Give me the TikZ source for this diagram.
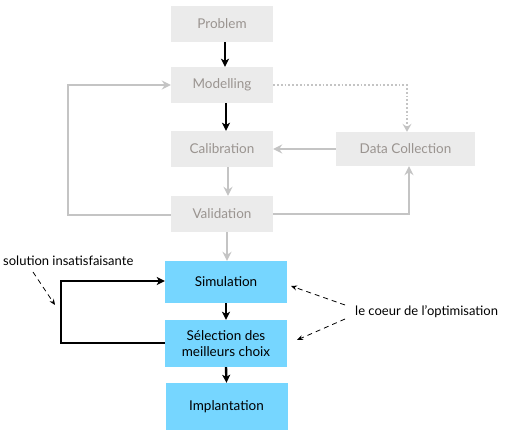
\documentclass[tikz,border=0pt]{standalone}
\usepackage{fontspec}
\setmainfont{Lato}
\usetikzlibrary{arrows.meta}
\definecolor{boxgray}{HTML}{EBEBEB}
\definecolor{txtgray}{HTML}{9A9490}
\definecolor{linegray}{HTML}{C4C4C4}
\definecolor{boxblue}{HTML}{76D6FF}
\tikzset{
  graybox/.style={fill=boxgray, text=txtgray, minimum width=102pt, minimum height=36pt, inner sep=0pt, font=\fontsize{13.5}{15}\selectfont},
  bluebox/.style={fill=boxblue, text=black, minimum width=122pt, inner sep=0pt, align=center, font=\fontsize{13.5}{16.5}\selectfont},
  grayarr/.style={draw=linegray, line width=2.2pt, -{Stealth[length=9pt,width=9pt,inset=3pt]}},
  blackarr/.style={draw=black, line width=2.4pt, -{Stealth[length=8pt,width=8pt,inset=2pt]}},
  dotarr/.style={draw=linegray, line width=1.8pt, dotted, -{Stealth[length=8pt,width=9pt,inset=3pt]}},
  dasharr/.style={draw=black, line width=0.8pt, dash pattern=on 5pt off 4pt, -{Stealth[length=6pt,width=5pt]}},
  lbl/.style={font=\fontsize{13}{15}\selectfont, inner sep=0pt}
}
\begin{document}
\begin{tikzpicture}[x=1pt,y=-1pt]
\useasboundingbox (0,0) rectangle (511,435);
\node[graybox] (prob) at (222,24) {Problem};
\node[graybox] (mod) at (222,85) {Modelling};
\node[graybox] (cal) at (222,149) {Calibration};
\node[graybox, minimum width=139pt, minimum height=34pt] (data) at (405.5,149) {Data Collection};
\node[graybox] (val) at (222,214) {Validation};
\node[bluebox, minimum height=42pt] (sim) at (226,282) {Simulation};
\node[bluebox, minimum height=47pt] (sel) at (226,343.5) {Sélection des\\meilleurs choix};
\node[bluebox, minimum height=47pt] (imp) at (226.5,406.5) {Implantation};

\node[lbl, anchor=west] (sol) at (3,261) {solution insatisfaisante};
\node[lbl, anchor=west] (coeur) at (355,312) {le coeur de l'optimisation};

\coordinate (c1) at (407,85);
\coordinate (c2) at (409,214);
\coordinate (l1) at (68,215);
\coordinate (l2) at (68,85);
\coordinate (s1) at (61,343);
\coordinate (s2) at (61,281);

\draw[blackarr] (prob.south -| 225,0) -- (mod.north -| 225,0);
\draw[blackarr] (mod.south -| 226,0) -- (cal.north -| 226,0);
\draw[grayarr] (cal.south -| 228,0) -- (val.north -| 228,0);
\draw[grayarr] (val.south -| 227,0) -- (sim.north -| 227,0);
\draw[dotarr] (mod.east) -- (c1) -- (data.north -| c1);
\draw[grayarr] (data.west) -- (cal.east);
\draw[grayarr] (val.east) -- (c2) -- (data.south -| c2);
\draw[grayarr] (val.west |- l1) -- (l1) -- (l2) -- (mod.west);
\draw[blackarr] (sel.west |- s1) -- (s1) -- (s2) -- (sim.west |- s2);
\draw[blackarr] (sim.south) -- (sel.north);
\draw[blackarr] (sel.south) -- (imp.north);

\coordinate (d1) at (33,272);
\coordinate (d2) at (55,305);
\draw[dasharr] (d1) -- (d2);
\coordinate (e0) at (345,305);
\coordinate (e1) at (291,286);
\coordinate (f0) at (345,319);
\coordinate (f1) at (297,340);
\draw[dasharr] (e0) -- (e1);
\draw[dasharr] (f0) -- (f1);
\end{tikzpicture}
\end{document}
